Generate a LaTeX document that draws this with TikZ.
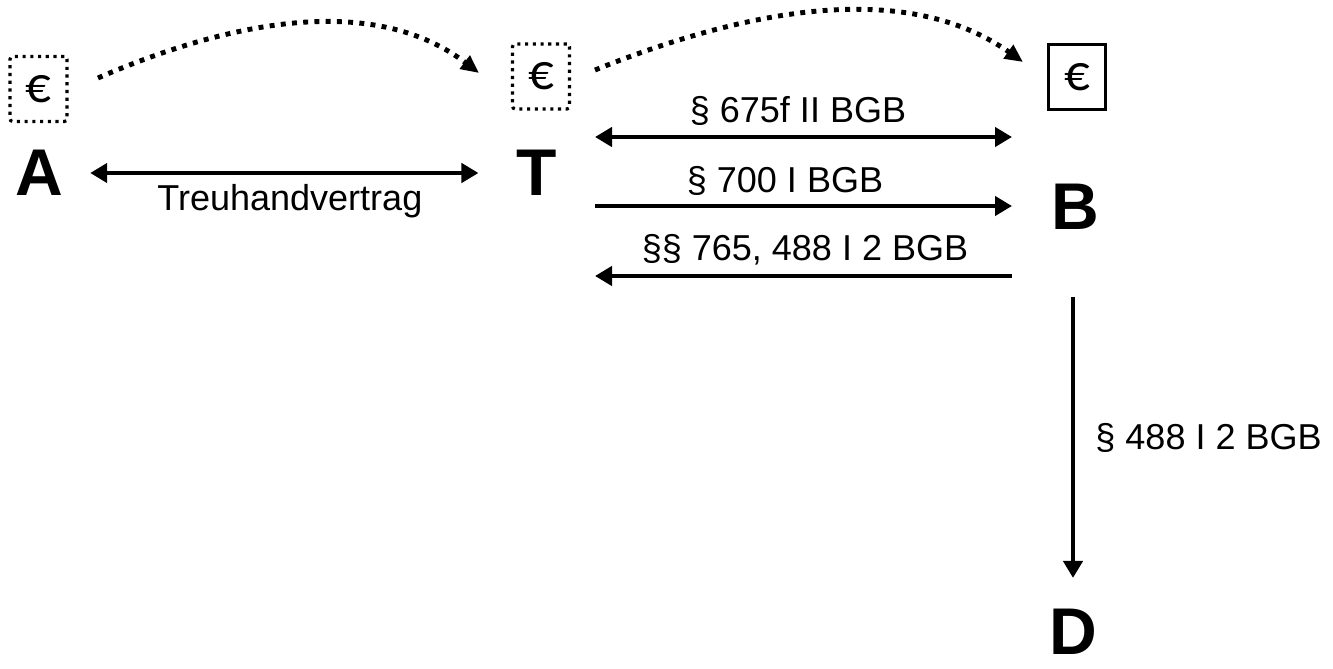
\documentclass[tikz,border=0pt]{standalone}
\usepackage{fontspec}
\setmainfont{Liberation Sans}
\newfontfamily\eurofont{Carlito}
\usepackage{tikz}
\usetikzlibrary{arrows.meta}
\usetikzlibrary{positioning}

\begin{document}
\begin{tikzpicture}[
    x=0.02cm, y=-0.02cm,
    party/.style={inner sep=0pt, font=\fontsize{37.6}{40}\selectfont\bfseries},
    money/.style={draw, line width=1.8pt, dash pattern=on 1.8pt off 2.6pt, rounded corners=1.5pt,
      minimum width=1.14cm, minimum height=1.3cm, inner sep=0pt, font=\eurofont\fontsize{29}{30}\selectfont},
    cash/.style={draw, line width=1.9pt, minimum width=1.14cm, minimum height=1.3cm,
      inner sep=0pt, font=\eurofont\fontsize{29}{30}\selectfont},
    edge label/.style={inner sep=0pt, anchor=base, font=\fontsize{20.5}{24}\selectfont},
    arr/.style={line width=2.8pt, -{Triangle[length=0.34cm, width=0.38cm]}},
    dub/.style={line width=2.8pt, {Triangle[length=0.34cm, width=0.38cm]}-{Triangle[length=0.34cm, width=0.38cm]}},
    flow/.style={line width=2.8pt, dash pattern=on 2.8pt off 3.6pt, -{Triangle[length=0.36cm, width=0.32cm]}},
  ]
  \useasboundingbox (0,0) rectangle (1333,669);

  % Parties
  \node[party] (A) at (39,173)    {A};
  \node[party] (T) at (537,173)   {T};
  \node[party] (B) at (1075,207)  {B};
  \node[party] (D) at (1073,632)  {D};

  % Money boxes
  \node[money] (eA) at (38.5,89)  {€};
  \node[money] (eT) at (541,76.5) {€};
  \node[cash]  (eB) at (1077,77)  {€};

  % Ends of the connectors between T and B
  \coordinate (t1) at (595,137);  \coordinate (b1) at (1012,137);
  \coordinate (t2) at (595,206);  \coordinate (b2) at (1012,206);
  \coordinate (t3) at (595,276);  \coordinate (b3) at (1012,276);

  % Money transfer
  \coordinate (m1) at (98,78);   \coordinate (m2) at (479,73);
  \coordinate (m3) at (595,70);  \coordinate (m4) at (1023,62);
  \draw[flow] (m1) .. controls (220,25) and (370,-10) .. (m2);
  \draw[flow] (m3) .. controls (732,15) and (900,-25) .. (m4);

  % Contracts
  \draw[dub, shorten <=0.54cm, shorten >=0.76cm] (A) --
    node[edge label, yshift=-0.76cm] {Treuhandvertrag} (T);
  \draw[dub] (t1) -- node[edge label, xshift=-0.11cm, yshift=0.3cm]  {§ 675f II BGB} (b1);
  \draw[arr] (t2) -- node[edge label, xshift=-0.37cm, yshift=0.28cm] {§ 700 I BGB} (b2);
  \draw[arr] (b3) -- node[edge label, xshift=0.03cm, yshift=0.32cm]  {§§ 765, 488 I 2 BGB} (t3);
  \draw[arr, shorten <=1.34cm, shorten >=0.62cm] (B.south -| D.north) --
    node[edge label, anchor=base west, pos=0.58, xshift=0.4cm] {§ 488 I 2 BGB} (D.north);

\end{tikzpicture}
\end{document}
